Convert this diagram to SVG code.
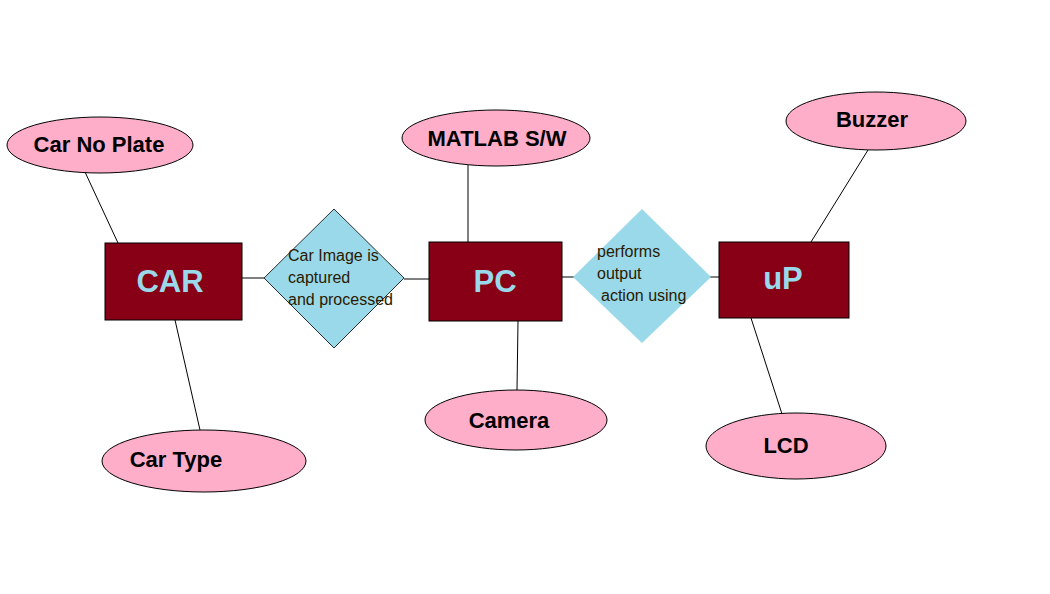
<svg xmlns="http://www.w3.org/2000/svg" width="1050" height="594" viewBox="0 0 1050 594">
<style>
.ell{fill:#FFAEC9;stroke:#000;stroke-width:1}
.ent{fill:#880015;stroke:#000;stroke-width:1}
.rel{fill:#99D9EA;stroke:#000;stroke-width:0.8}
.rel2{fill:#99D9EA;stroke:none}
.conn line{stroke:#000;stroke-width:1}
.at{font-family:"Liberation Sans",Arial,sans-serif;font-weight:bold;font-size:22px;fill:#000}
.et{font-family:"Liberation Sans",Arial,sans-serif;font-weight:bold;font-size:31px;fill:#99D9EA;text-anchor:middle}
.rt{font-family:"Liberation Sans",Arial,sans-serif;font-size:16px;fill:#2a1a00}
</style>
<rect width="1050" height="594" fill="#fff"/>
<g id="connectors" class="conn">
<line x1="85" y1="172" x2="118" y2="243"/>
<line x1="175" y1="320" x2="200" y2="430"/>
<line x1="242" y1="278" x2="264" y2="278"/>
<line x1="404" y1="279" x2="429" y2="279"/>
<line x1="468" y1="165" x2="468" y2="242"/>
<line x1="518" y1="321" x2="517" y2="390"/>
<line x1="562" y1="277" x2="577" y2="277"/>
<line x1="708" y1="277" x2="719" y2="277"/>
<line x1="868" y1="150" x2="811" y2="242"/>
<line x1="751" y1="318" x2="782" y2="414"/>
</g>
<g id="car-no-plate"><ellipse class="ell" cx="100" cy="145" rx="93" ry="28"/><text class="at" x="99" y="152" text-anchor="middle">Car No Plate</text></g>
<g id="car-type"><ellipse class="ell" cx="204" cy="461" rx="102" ry="31"/><text class="at" x="176" y="467" text-anchor="middle">Car Type</text></g>
<g id="car"><rect class="ent" x="105" y="243" width="137" height="77"/><text class="et" x="170" y="292">CAR</text></g>
<g id="rel-capture"><polygon class="rel" points="334,209 404,278 334,348 264,278"/>
<text class="rt" x="288" y="261">Car Image is</text><text class="rt" x="288" y="283">captured</text><text class="rt" x="288" y="305">and processed</text></g>
<g id="matlab"><ellipse class="ell" cx="496" cy="138" rx="94" ry="28"/><text class="at" x="497" y="146" text-anchor="middle">MATLAB S/W</text></g>
<g id="pc"><rect class="ent" x="429" y="242" width="133" height="79"/><text class="et" x="495" y="292">PC</text></g>
<g id="camera"><ellipse class="ell" cx="516" cy="420" rx="91" ry="30"/><text class="at" x="509" y="428" text-anchor="middle">Camera</text></g>
<g id="rel-output"><polygon class="rel2" points="642,209 711,277 642,343 573,277"/>
<text class="rt" x="597" y="257">performs</text><text class="rt" x="597" y="279">output</text><text class="rt" x="601" y="301">action using</text></g>
<g id="up"><rect class="ent" x="719" y="242" width="130" height="76"/><text class="et" x="783" y="289">uP</text></g>
<g id="buzzer"><ellipse class="ell" cx="876" cy="121" rx="90" ry="29"/><text class="at" x="872" y="127" text-anchor="middle">Buzzer</text></g>
<g id="lcd"><ellipse class="ell" cx="796" cy="446" rx="90" ry="33"/><text class="at" x="786" y="453" text-anchor="middle">LCD</text></g>
</svg>
